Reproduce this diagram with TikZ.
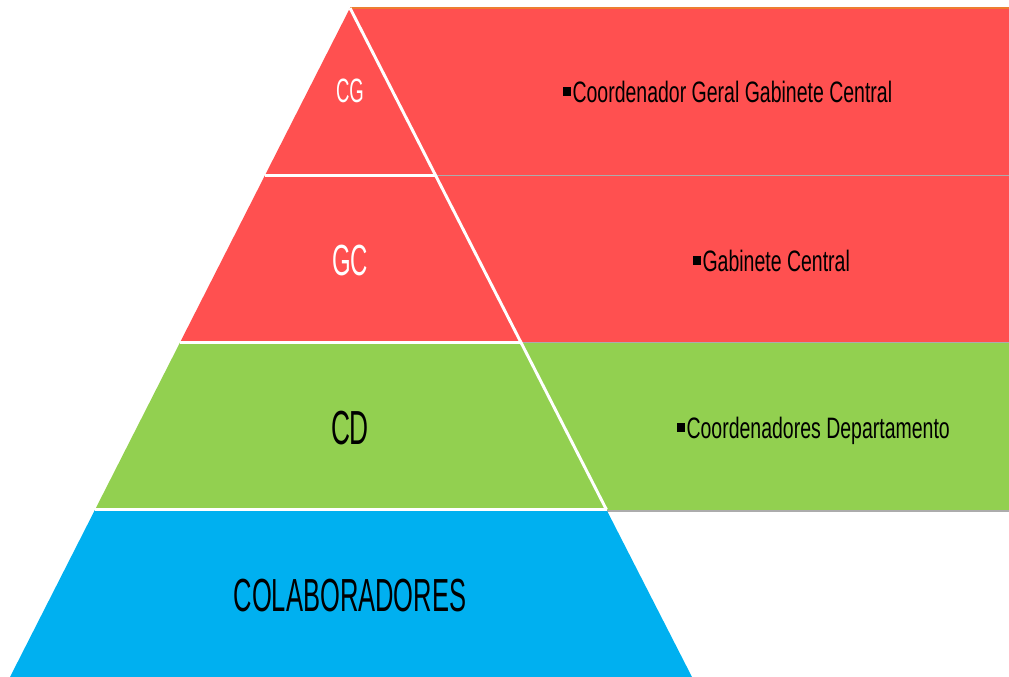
\documentclass[tikz,border=0pt]{standalone}
\usepackage{graphicx}
\usepackage{fontspec}
\setmainfont{Liberation Sans}
\usetikzlibrary{calc}
\definecolor{levelRed}{HTML}{FF5050}
\definecolor{levelGreen}{HTML}{92D050}
\definecolor{levelBlue}{HTML}{00B0F0}
\definecolor{panelEdge}{HTML}{ED7D31}
\tikzset{
    levelLine/.style={draw=white, line width=2.1pt},
    panelLine/.style={draw=gray!65, line width=1.4pt},
    tag/.style={anchor=base, inner sep=0pt},
    item/.style={anchor=base west, inner sep=0pt, font=\fontsize{21}{24}\selectfont},
}
% condensed look for the labels
\newcommand{\narrowTag}[1]{\scalebox{0.55}[1]{#1}}
\newcommand{\narrowItem}[1]{\scalebox{0.66}[1]{\rule[4.5pt]{8pt}{6.5pt}\hspace{2pt}#1}}
% coloured band behind the pyramid: fill, top, bottom
\newcommand{\drawPanel}[3]{
    \fill[#1] (350,#2) rectangle (1009,#3);
    \draw[panelLine] (350,#3) -- (1009,#3);
}

\begin{document}
\begin{tikzpicture}[x=0.025cm, y=-0.025cm]
    \useasboundingbox (0,0) rectangle (1009,677);

    % bands on the right
    \drawPanel{levelRed}{8}{176}
    \drawPanel{levelRed}{176}{343}
    \drawPanel{levelGreen}{343}{511}
    \draw[panelEdge, line width=1.4pt] (350,8) -- (1009,8);

    % pyramid
    \coordinate (apex) at (350,8);
    \coordinate (baseL) at (10,677);
    \coordinate (baseR) at (692,677);
    \foreach \i in {1,2,3} {
        \coordinate (L\i) at ($(apex)!\i/4!(baseL)$);
        \coordinate (R\i) at ($(apex)!\i/4!(baseR)$);
    }
    \fill[levelRed] (apex) -- (R1) -- (L1) -- cycle;
    \fill[levelRed] (L1) -- (R1) -- (R2) -- (L2) -- cycle;
    \fill[levelGreen] (L2) -- (R2) -- (R3) -- (L3) -- cycle;
    \fill[levelBlue] (L3) -- (R3) -- (baseR) -- (baseL) -- cycle;
    \draw[levelLine] (apex) -- (R3);
    \foreach \i in {1,2,3}
        \draw[levelLine] (L\i) -- (R\i);

    % level names
    \node[tag, text=white, font=\fontsize{24}{26}\selectfont] (cg) at (350,102) {\narrowTag{CG}};
    \node[tag, text=white, font=\fontsize{31}{33}\selectfont] (gc) at (350,275) {\narrowTag{GC}};
    \node[tag, font=\fontsize{34}{36}\selectfont] (cd) at (350,444) {\narrowTag{CD}};
    \node[tag, font=\fontsize{33}{35}\selectfont] (colab) at (350,611) {\narrowTag{COLABORADORES}};

    % descriptions
    \node[item] (cgText) at (563,102) {\narrowItem{Coordenador Geral Gabinete Central}};
    \node[item] (gcText) at (693,271) {\narrowItem{Gabinete Central}};
    \node[item] (cdText) at (677,438) {\narrowItem{Coordenadores Departamento}};
\end{tikzpicture}
\end{document}
